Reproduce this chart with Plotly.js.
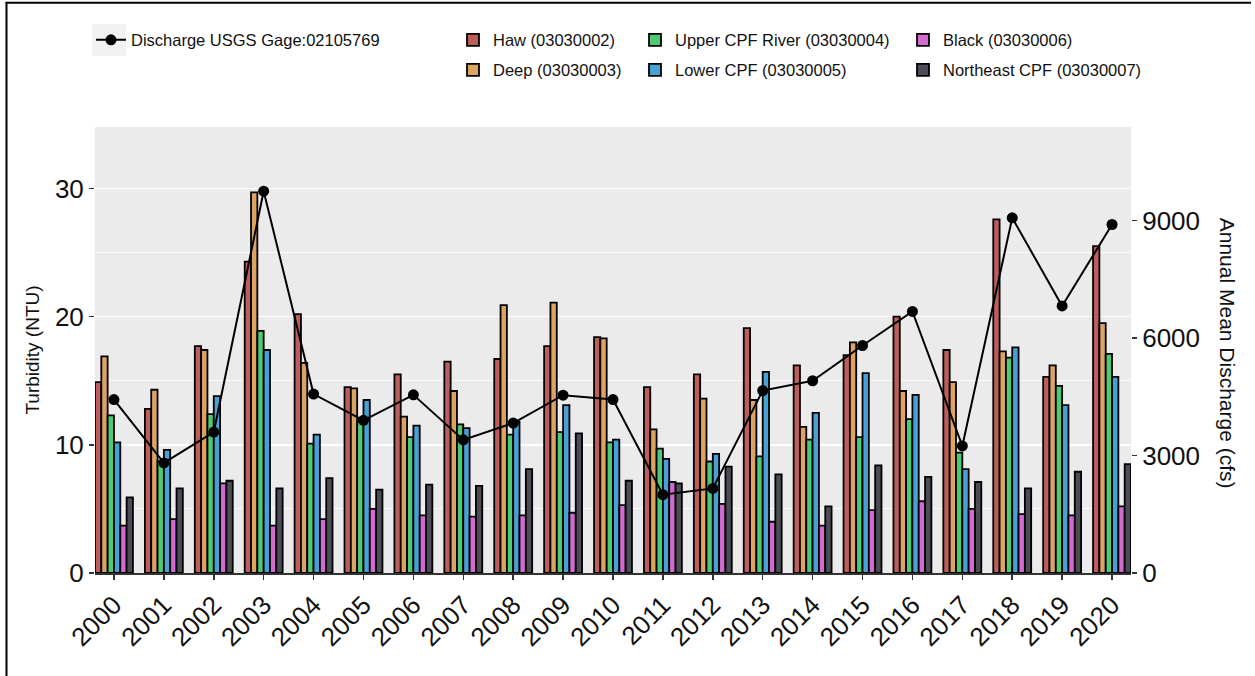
<!DOCTYPE html>
<html>
<head>
<meta charset="utf-8">
<script src="https://cdn.plot.ly/plotly-3.0.1.min.js"></script>
<style>
html,body{margin:0;padding:0;background:#fff;}
#chart{width:1255px;height:676px;}
</style>
</head>
<body>
<div id="chart"></div>
<script>
const years = ["2000","2001","2002","2003","2004","2005","2006","2007","2008","2009","2010","2011","2012","2013","2014","2015","2016","2017","2018","2019","2020"];

const haw       = [14.9, 12.8, 17.7, 24.3, 20.2, 14.5, 15.5, 16.5, 16.7, 17.7, 18.4, 14.5, 15.5, 19.1, 16.2, 17.0, 20.0, 17.4, 27.6, 15.3, 25.5];
const deep      = [16.9, 14.3, 17.4, 29.7, 16.4, 14.4, 12.2, 14.2, 20.9, 21.1, 18.3, 11.2, 13.6, 13.5, 11.4, 18.0, 14.2, 14.9, 17.3, 16.2, 19.5];
const upperCPF  = [12.3,  8.7, 12.4, 18.9, 10.1, 11.8, 10.6, 11.6, 10.8, 11.0, 10.2,  9.7,  8.7,  9.1, 10.4, 10.6, 12.0,  9.4, 16.8, 14.6, 17.1];
const lowerCPF  = [10.2,  9.6, 13.8, 17.4, 10.8, 13.5, 11.5, 11.3, 11.8, 13.1, 10.4,  8.9,  9.3, 15.7, 12.5, 15.6, 13.9,  8.1, 17.6, 13.1, 15.3];
const black     = [ 3.7,  4.2,  7.0,  3.7,  4.2,  5.0,  4.5,  4.4,  4.5,  4.7,  5.3,  7.1,  5.4,  4.0,  3.7,  4.9,  5.6,  5.0,  4.6,  4.5,  5.2];
const northeast = [ 5.9,  6.6,  7.2,  6.6,  7.4,  6.5,  6.9,  6.8,  8.1, 10.9,  7.2,  7.0,  8.3,  7.7,  5.2,  8.4,  7.5,  7.1,  6.6,  7.9,  8.5];
const discharge = [4430, 2810, 3600, 9750, 4570, 3900, 4550, 3400, 3830, 4540, 4430, 2000, 2160, 4660, 4910, 5810, 6680, 3245, 9070, 6820, 8900];

const seriesNames = ["Haw (03030002)","Deep (03030003)","Upper CPF River (03030004)","Lower CPF (03030005)","Black (03030006)","Northeast CPF (03030007)"];
const seriesValues = [haw, deep, upperCPF, lowerCPF, black, northeast];
const seriesColors = ["#BD5E5C","#DDA363","#4DCB74","#47A1D7","#D26AD1","#4B4C55"];
const lineName = "Discharge USGS Gage:02105769";

// plot-area pixel geometry
const W = 1255, H = 676;
const L = 95, R = 1131, T = 127, B = 573.5;
const pw = R - L, ph = B - T;
function px(x){ return (x - L) / pw; }
function py(y){ return (B - y) / ph; }

const legendIds = ["legend2","legend3","legend4","legend5","legend6","legend7"];

const traces = seriesNames.map((n, i) => ({
  type: "bar",
  name: n,
  x: years,
  y: seriesValues[i],
  marker: {color: seriesColors[i], line: {color: "#000", width: 1.8}},
  legend: legendIds[i],
  yaxis: "y"
}));

traces.push({
  type: "scatter",
  mode: "lines+markers",
  name: lineName,
  x: years,
  y: discharge,
  yaxis: "y2",
  line: {color: "#000", width: 2},
  marker: {color: "#000", size: 11},
  legend: "legend"
});

const legFont = {family: "Liberation Sans, Arial, sans-serif", size: 16.5, color: "#111"};
function leg(xpix, ypix){
  return {x: px(xpix), y: py(ypix), xanchor: "left", yanchor: "middle",
          orientation: "v", bgcolor: "rgba(0,0,0,0)", font: legFont,
          tracegroupgap: 0, itemwidth: 30, traceorder: "normal"};
}

const layout = {
  width: W, height: H,
  margin: {l: L, r: W - R, t: T, b: H - B},
  paper_bgcolor: "#fff",
  plot_bgcolor: "#EBEBEB",
  font: {family: "Liberation Sans, Arial, sans-serif", color: "#111"},
  barmode: "group",
  bargap: 0.24,
  bargroupgap: 0,
  showlegend: true,
  legend: leg(91, 40),
  legend2: leg(453, 40),
  legend3: leg(453, 70),
  legend4: leg(635, 40),
  legend5: leg(635, 70),
  legend6: leg(903, 40),
  legend7: leg(903, 70),
  xaxis: {
    type: "category",
    range: [-0.38, 20.38],
    showgrid: false,
    showline: true, linecolor: "#333", linewidth: 1.5,
    ticks: "outside", ticklen: 5, tickcolor: "#333", tickwidth: 1.5,
    tickangle: -45,
    tickfont: {size: 26, color: "#111"},
    zeroline: false
  },
  yaxis: {
    range: [0, ph / 12.83],
    tickvals: [0, 10, 20, 30],
    ticks: "outside", ticklen: 5, tickcolor: "#333", tickwidth: 1.5,
    tickfont: {size: 26, color: "#111"},
    showgrid: true, gridcolor: "#FFFFFF", gridwidth: 1.6,
    minor: {tickvals: [5, 15, 25], showgrid: true, gridcolor: "#FFFFFF", gridwidth: 0.8, ticks: ""},
    showline: false, zeroline: false,
    title: {text: "Turbidity (NTU)", font: {size: 19, color: "#111"}, standoff: 10}
  },
  yaxis2: {
    overlaying: "y", side: "right",
    range: [0, ph / 0.0392],
    tickvals: [0, 3000, 6000, 9000],
    ticks: "outside", ticklen: 5, tickcolor: "#333", tickwidth: 1.5,
    tickfont: {size: 26, color: "#111"},
    showgrid: false, zeroline: false, showline: false
  },
  annotations: [{
    xref: "paper", yref: "paper",
    x: px(1227), y: py(353),
    text: "Annual Mean Discharge (cfs)",
    textangle: 90, showarrow: false,
    font: {size: 21, color: "#111"},
    xanchor: "center", yanchor: "middle"
  }],
  shapes: [
    {type: "rect", xref: "paper", yref: "paper", x0: px(92), x1: px(126), y0: py(24), y1: py(56), line: {width: 0}, fillcolor: "#F2F2F2", layer: "below"},
    {type: "line", xref: "paper", yref: "paper", x0: px(6.5), x1: px(6.5), y0: py(2), y1: py(H + 5), line: {color: "#000", width: 2}},
    {type: "line", xref: "paper", yref: "paper", x0: px(5.5), x1: px(1251), y0: py(2.5), y1: py(2.5), line: {color: "#000", width: 2}}
  ]
};

Plotly.newPlot("chart", traces, layout, {displayModeBar: false, staticPlot: true});
</script>
</body>
</html>
